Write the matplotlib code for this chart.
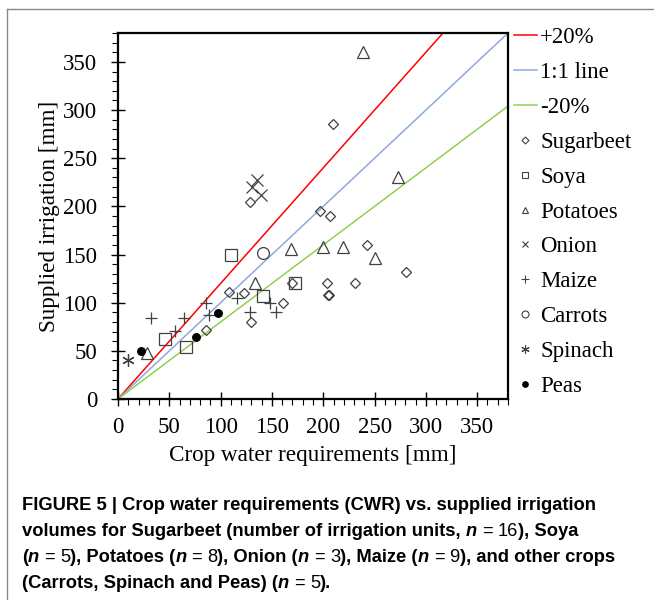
import matplotlib
matplotlib.use("Agg")
import matplotlib.pyplot as plt
from matplotlib.lines import Line2D
from matplotlib.ticker import MultipleLocator
import numpy as np

# Crop water requirements (x) vs supplied irrigation (y), mm
sugarbeet_x = [86, 108, 123, 130, 161, 170, 129, 197, 207, 243, 281, 204, 231, 205, 206, 209]
sugarbeet_y = [72, 111, 110, 80, 100, 120, 205, 195, 190, 160, 132, 120, 120, 108, 108, 286]
soya_x = [46, 66, 110, 141, 172]
soya_y = [62, 54, 150, 107, 120]
potatoes_x = [28, 133, 169, 200, 219, 250, 239, 273]
potatoes_y = [48, 120, 156, 158, 158, 146, 360, 231]
onion_x = [131, 135, 139]
onion_y = [220, 227, 212]
maize_x = [32, 64, 56, 86, 89, 116, 129, 148, 154]
maize_y = [84, 84, 71, 100, 87, 105, 90, 100, 90]
carrots_x = [141]
carrots_y = [152]
spinach_x = [10]
spinach_y = [40]
peas_x = [22, 76, 97]
peas_y = [50, 64, 89]

line_x = [0, 380]
ratios = [1.2, 1.0, 0.8]
line_labels = ["+20%", "1:1 line", "-20%"]
line_colors = ["#ff0000", "#8eaadb", "#92d050"]

serif = "Liberation Serif"
sans = "Liberation Sans"
grey = "#404040"

fig = plt.figure(figsize=(6.54, 6.0), dpi=100)
ax = fig.add_axes([118 / 654, 1 - 399 / 600, 390 / 654, 366 / 600])

for r, c in zip(ratios, line_colors):
    ax.plot(line_x, [r * v for v in line_x], color=c, lw=1.1, zorder=2)

series = [
    (sugarbeet_x, sugarbeet_y, "D", 5.5, "none"),
    (soya_x, soya_y, "s", 8.5, "none"),
    (potatoes_x, potatoes_y, "^", 8.5, "none"),
    (onion_x, onion_y, "x", 8, "none"),
    (maize_x, maize_y, "+", 9, "none"),
    (carrots_x, carrots_y, "o", 8.5, "none"),
    (spinach_x, spinach_y, (6, 2, 0), 9, "none"),
    (peas_x, peas_y, "o", 5.5, "black"),
]
for xs, ys, m, ms, fc in series:
    edge = "black" if fc == "black" else grey
    ax.plot(xs, ys, ls="none", marker=m, ms=ms, mfc=fc, mec=edge, mew=0.9, zorder=3)

ax.set_xlim(0, 380)
ax.set_ylim(0, 380)
ax.xaxis.set_major_locator(MultipleLocator(50))
ax.yaxis.set_major_locator(MultipleLocator(50))
ax.xaxis.set_minor_locator(MultipleLocator(10))
ax.yaxis.set_minor_locator(MultipleLocator(10))
ax.tick_params(which="major", direction="inout", length=10, width=1.0, pad=8,
               labelsize=16.5, colors="black")
ax.tick_params(axis="y", which="major", pad=10)
ax.tick_params(which="minor", direction="out", length=4, width=0.8)
for lab in ax.get_xticklabels() + ax.get_yticklabels():
    lab.set_fontfamily(serif)
for s in ax.spines.values():
    s.set_linewidth(1.6)

ax.set_xlabel("Crop water requirements [mm]", fontfamily=serif, fontsize=16.7, labelpad=5)
ax.set_ylabel("Supplied irrigation [mm]", fontfamily=serif, fontsize=16.7, labelpad=2)

# legend with small proxy markers
handles = [Line2D([], [], color=c, lw=1.1) for c in line_colors]
leg_markers = [("D", 3.5, "none"), ("s", 5, "none"), ("^", 5, "none"), ("x", 5, "none"),
               ("+", 6, "none"), ("o", 5, "none"), ((6, 2, 0), 6, "none"), ("o", 4, "black")]
for m, ms, fc in leg_markers:
    handles.append(Line2D([], [], ls="none", marker=m, ms=ms, mfc=fc,
                          mec="black" if fc == "black" else grey, mew=0.8))
labels = line_labels + ["Sugarbeet", "Soya", "Potatoes", "Onion", "Maize",
                        "Carrots", "Spinach", "Peas"]
fig.legend(handles, labels, loc="upper left", bbox_to_anchor=(514 / 654, 1 - 27 / 600),
           frameon=False, handlelength=1.0, handletextpad=0.15, labelspacing=0.605,
           borderaxespad=0, borderpad=0, prop={"family": serif, "size": 16.5})

# outer frame
fig.add_artist(Line2D([7 / 654, 7 / 654], [0, 1 - 9 / 600], color="#888888", lw=1.0))
fig.add_artist(Line2D([7 / 654, 1], [1 - 9 / 600, 1 - 9 / 600], color="#888888", lw=1.0))

# caption: bold text, bold-italic n, regular "= value"; numbers are gaps in px
B, I, R = ("bold", "normal"), ("bold", "italic"), ("normal", "normal")


def n_eq(v):
    return [("n", I), 5, ("=", R), 5, (v, R)]


caption = [
    [("FIGURE 5 | Crop water requirements (CWR) vs. supplied irrigation", B)],
    [("volumes for Sugarbeet (number of irrigation units, ", B)] + n_eq("16")
    + [("), Soya", B)],
    [("(", B)] + n_eq("5") + [("), Potatoes (", B)] + n_eq("8") + [("), Onion (", B)]
    + n_eq("3") + [("), Maize (", B)] + n_eq("9") + [("), and other crops", B)],
    [("(Carrots, Spinach and Peas) (", B)] + n_eq("5") + [(").", B)],
]
line_y = [505, 531, 557, 583]
fig.canvas.draw()
renderer = fig.canvas.get_renderer()
for parts, py in zip(caption, line_y):
    x = 22
    for part in parts:
        if not isinstance(part, tuple):
            x += part
            continue
        txt, (weight, style) = part
        t = fig.text(x / 654, 1 - py / 600, txt, fontfamily=sans, fontweight=weight,
                     fontstyle=style, fontsize=13.2, va="center", ha="left")
        bb = t.get_window_extent(renderer)
        x += bb.width

fig.savefig("out.png", dpi=100)
